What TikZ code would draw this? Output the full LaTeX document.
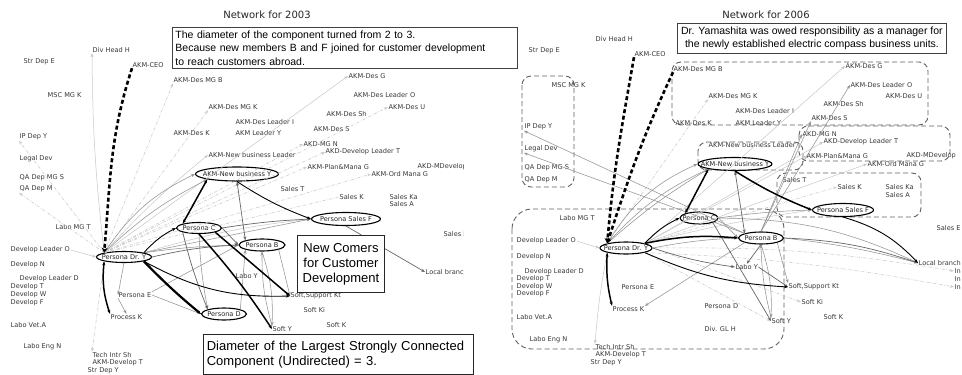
\documentclass[tikz,border=0pt]{standalone}
\usepackage{fontspec}
\setmainfont{Liberation Sans}
\newfontfamily\dv{DejaVu Sans}
\usetikzlibrary{shapes.geometric,arrows.meta}
\begin{document}
\begin{tikzpicture}[x=1pt,y=-1pt,
 >={Stealth[length=4pt,width=3pt]},
 lbl/.style={font=\dv\fontsize{6.6}{8}\selectfont, text=black!78, inner sep=0.5pt, anchor=west},
 ell/.style 2 args={font=\dv\fontsize{6.6}{8}\selectfont, text=black!85, draw=black, line width=1.1pt, ellipse, inner sep=0pt, minimum width=#1pt, minimum height=#2pt},
 ttl/.style={font=\dv\fontsize{10}{12}\selectfont, text=black!85},
 tbox/.style={draw=black!75, fill=white, line width=0.9pt, inner xsep=3pt, inner ysep=2pt, anchor=north west, font=\fontsize{10.5}{13.5}\selectfont},
 bbox/.style={draw=black!85, fill=white, line width=1pt, anchor=north west, font=\fontsize{13}{15}\selectfont},
 e1/.style={draw=black, line width=0.9pt},
 e1t/.style={draw=black, line width=1.5pt},
 e2/.style={draw=black!60, line width=0.7pt},
 e3/.style={draw=black!42, line width=0.55pt},
 e4/.style={draw=black!22, line width=0.5pt},
 ef/.style={draw=black!20, line width=0.6pt, dash pattern=on 3pt off 1.5pt on 0.6pt off 1.5pt},
 ceo/.style={draw=black, line width=2.6pt, dash pattern=on 4pt off 2.6pt, -{Stealth[length=5pt,width=6pt]}},
 grp/.style={draw=black!62, line width=0.9pt, dash pattern=on 5pt off 3pt, rounded corners=9pt}
]
\useasboundingbox (0,0) rectangle (962,375);
\fill[white] (0,0) rectangle (962,375);

%================ LEFT PANEL (2003) ================
\begin{scope}
\clip (0,0) rectangle (463,375);
\node[lbl] (Ldivh) at (92,50) {Div Head H};
\node[lbl] (Lstre) at (23,62) {Str Dep E};
\node[lbl] (Lceo) at (132,65) {AKM-CEO};
\node[lbl] (Ldesmgb) at (173,80) {AKM-Des MG B};
\node[lbl] (Lmsc) at (47,95) {MSC MG K};
\node[lbl] (Ldesmgk) at (208,107) {AKM-Des MG K};
\node[lbl] (Lipdep) at (19,137) {IP Dep Y};
\node[lbl] (Llegal) at (19,159) {Legal Dev};
\node[lbl] (Lqas) at (19,178) {QA Dep MG S};
\node[lbl] (Lqam) at (19,189) {QA Dep M};
\node[lbl] (Ldesk) at (173,133) {AKM-Des K};
\node[lbl] (Ldesli) at (235,122) {AKM-Des Leader I};
\node[lbl] (Lleadery) at (235,133) {AKM Leader Y};
\node[lbl] (Lnbl) at (208,155) {AKM-New business Leader};
\node[lbl] (Ldesg) at (348,76) {AKM-Des G};
\node[lbl] (Ldeslo) at (353,95) {AKM-Des Leader O};
\node[lbl] (Ldesu) at (388,107) {AKM-Des U};
\node[lbl] (Ldessh) at (326,114) {AKM-Des Sh};
\node[lbl] (Ldess) at (313,129) {AKM-Des S};
\node[lbl] (Lmgn) at (303,144) {AKD-MG N};
\node[lbl] (Ldlt) at (325,152) {AKD-Develop Leader T};
\node[lbl] (Lplan) at (307,167) {AKM-Plan\&Mana G};
\node[lbl] (Lmdev) at (417,167) {AKD-MDevelop};
\node[lbl] (Lord) at (371,174) {AKM-Ord Mana G};
\node[lbl] (Lsalest) at (280,189) {Sales T};
\node[lbl] (Lsalesk) at (339,197) {Sales K};
\node[lbl] (Lsaleska) at (389,197) {Sales Ka};
\node[lbl] (Lsalesa) at (389,204) {Sales A};
\node[lbl] (Lsalese) at (443,234) {Sales E};
\node[lbl] (Llocal) at (425,272) {Local branch};
\node[lbl] (Llaboy) at (235,276) {Labo Y};
\node[lbl] (Lssk) at (290,296) {Soft,Support Kt};
\node[lbl] (Lski) at (303,310) {Soft Ki};
\node[lbl] (Lsk) at (326,325) {Soft K};
\node[lbl] (Lsy) at (272,329) {Soft Y};
\node[lbl] (Llabomg) at (55,227) {Labo MG T};
\node[lbl] (Ldlo) at (10,250) {Develop Leader O};
\node[lbl] (Ldn) at (10,265) {Develop N};
\node[lbl] (Ldld) at (19,279) {Develop Leader D};
\node[lbl] (Ldt) at (10,287) {Develop T};
\node[lbl] (Ldw) at (10,295) {Develop W};
\node[lbl] (Ldf) at (10,303) {Develop F};
\node[lbl] (Llva) at (10,325) {Labo Vet.A};
\node[lbl] (Llen) at (23,347) {Labo Eng N};
\node[lbl] (Ltis) at (92,355) {Tech Intr Sh};
\node[lbl] (Ladt) at (92,363) {AKM-Develop T};
\node[lbl] (Lsdy) at (87,371) {Str Dep Y};
\node[lbl] (Lpe) at (118,295) {Persona E};
\node[lbl] (Lpk) at (110,317) {Process K};

\node[ell={83}{14}] (Lnby) at (237,174) {\makebox[0pt]{AKM-New business Y}};
\node[ell={69}{13}] (Lsf) at (346,219) {\makebox[0pt]{Persona Sales F}};
\node[ell={46}{12}] (Lpb) at (262,245) {\makebox[0pt]{Persona B}};
\node[ell={45}{11}] (Lpc) at (199,228) {\makebox[0pt]{Persona C}};
\node[ell={45}{12}] (Lpd) at (224,314) {\makebox[0pt]{Persona D}};
\node[ell={55}{11}] (Ldy) at (124,257) {\makebox[0pt]{Persona Dr. Y}};

% faint edges
\draw[ef,->] (Ldy.north west) -- (Ldesu.west);
\draw[ef,->] (Ldy.north west) -- (Lmgn.west);
\draw[ef,->] (Ldy.north west) -- (Ldlt.west);
\draw[ef,->] (Ldy.north west) -- (Lplan.west);
\draw[ef,->] (Ldy.north west) -- (Lord.west);
\draw[ef] (Ldy.north west) -- (Lsalesk.west);
\draw[ef,->] (Ldy.north west) -- (Ldesmgb.south west);
\draw[ef,->] (Ldy.north west) -- (Ldesmgk.south west);
\draw[ef,->] (Ldy.north west) -- (Lipdep.south west);
\draw[ef,->] (Ldy.north west) -- (Lqam.south west);
\draw[ef,->] (Ldy.south west) -- (Ltis.north west);
\draw[e4,->] (Ldy.north west) to[bend left=3] (Ldivh.south west);
\draw[e4,->] (Ldy.north west) -- (Ldesg.west);
\draw[e4,->] (Ldy.north west) to[bend left=4] (Lnbl.west);
\draw[e4,->] (Ldlo.east) -- (Ldy.west);
\draw[e4,->] (Ldy.north east) to[bend left=5] (Lsf.west);
% gray edges
\draw[e3,->] (Ldy.north west) to[bend left=8] (Lnby.south west);
\draw[e3,->] (Ldy.north west) to[bend left=15] (Lnby.west);
\draw[e3,->] (Ldy.north east) to[bend left=3] (Lpb.west);
\draw[e3,->] (Ldy.north east) -- (Lsf.west);
\draw[e3,->] (Lpb.south east) -- (Lssk.west);
\draw[e3,->] (Lpb.south) to[bend left=10] (Lsy.north west);
\draw[e3,<-] (Lpb.south) to[bend right=8] (Lsy.north west);
\draw[e3,->] (Lpd.north east) -- (Lpb.south west);
\draw[e3,->] (Ldy.south) -- (Lpe.west);
\draw[e3,->] (Lpe.south west) -- (Lpk.north);
\draw[e3,->] (Lpe.east) -- (Lpd.west);
\draw[e3] (Lpe.north east) -- (Lpb.west);
\draw[e3,->] (Lpc.south) to[bend right=4] (Lpd.north west);
% dark edges
\draw[e2,<->] (Lnby.south) -- (Lpb.north west);
\draw[e2,->] (Ldy.east) to[bend left=5] (Lpb.west);
\draw[e2,->] (Lpc.east) -- (Lpb.west);
\draw[e2,->] (Lpc.east) to[bend left=3] (Lsf.west);
\draw[e2,->] (Lpc.south west) to[bend right=4] (Lpd.north west);
\draw[e2,->] (Lsf.south) -- (Llocal.west);
% black edges
\draw[e1t,<->] (Lnby.south west) -- (Lpc.north west);
\draw[e1,->] (Lnby.south) to[bend right=6] (Lsf.west);
\draw[e1,->] (Ldy.north east) to[bend left=10] (Lpc.west);
\draw[e1t,->] (Lpc.south east) -- (Lssk.west);
\draw[e1t,->] (Lpc.south) to[bend left=4] (Lsy.west);
\draw[e1,->] (Ldy.south east) to[bend right=15] (Lssk.west);
\draw[black, line width=2.2pt,->] (Ldy.south east) to[bend right=3] (Lpd.west);
\draw[e1t,<->] (Ldy.south west) to[bend right=12] (Lpk.north west);
\draw[ceo] (Lceo.south west) to[out=-108,in=85] (Ldy.north west);
\end{scope}
\node[ttl] (Ltitle) at (267,15) {Network for 2003};
\node[tbox, minimum width=345pt, minimum height=41pt, text width=339pt, align=left] (Lbox) at (172,27)
 {The diameter of the component turned from 2 to 3.\\Because new members B and F joined for customer development\\to reach customers abroad.};
\node[bbox, minimum width=87pt, minimum height=57pt, align=center] (Lnc) at (297,235) {New Comers\\for Customer\\Development};
\node[bbox, minimum width=269pt, minimum height=40pt, text width=263pt, align=left] (Ldiam) at (203,334) {Diameter of the Largest Strongly Connected\\Component (Undirected) = 3.};

%================ RIGHT PANEL (2006) ================
\node[ttl] (Rtitle) at (766,15) {Network for 2006};
\node[tbox, minimum width=269pt, minimum height=30pt, align=center] (Rbox) at (677,23)
 {Dr. Yamashita was owed responsibility as a manager for\\the newly established electric compass business units.};

\draw[grp] (522,76) rectangle (574,187);
\draw[grp] (672,62) rectangle (928,125);
\draw[grp] (698,142) rectangle (803,170);
\draw[grp] (799,126) rectangle (950,161);
\draw[grp] (777,173) rectangle (921,217);
\draw[grp, rounded corners=20pt] (512,209) rectangle (784,349);

\node[lbl] (Rdivh) at (595,39) {Div Head H};
\node[lbl] (Rstre) at (528,51) {Str Dep E};
\node[lbl] (Rceo) at (634,54) {AKM-CEO};
\node[lbl] (Rdesmgb) at (673,69) {AKM-Des MG B};
\node[lbl] (Rmsc) at (551,85) {MSC MG K};
\node[lbl] (Ripdep) at (524,127) {IP Dep Y};
\node[lbl] (Rlegal) at (524,149) {Legal Dev};
\node[lbl] (Rqas) at (524,168) {QA Dep MG S};
\node[lbl] (Rqam) at (524,180) {QA Dep M};
\node[lbl] (Rdesmgk) at (708,96) {AKM-Des MG K};
\node[lbl] (Rdesli) at (735,111) {AKM-Des Leader I};
\node[lbl] (Rdesk) at (675,123) {AKM-Des K};
\node[lbl] (Rleadery) at (735,123) {AKM Leader Y};
\node[lbl] (Rdesg) at (845,66) {AKM-Des G};
\node[lbl] (Rdeslo) at (850,85) {AKM-Des Leader O};
\node[lbl] (Rdesu) at (885,96) {AKM-Des U};
\node[lbl] (Rdessh) at (823,104) {AKM-Des Sh};
\node[lbl] (Rdess) at (811,118) {AKM-Des S};
\node[lbl] (Rmgn) at (802,134) {AKD-MG N};
\node[lbl] (Rdlt) at (823,142) {AKD-Develop Leader T};
\node[lbl] (Rplan) at (806,156) {AKM-Plan\&Mana G};
\node[lbl] (Rmdev) at (906,156) {AKD-MDevelop};
\node[lbl] (Rord) at (867,164) {AKM-Ord Mana G};
\node[lbl] (Rnbl) at (708,145) {AKM-New business Leader};
\node[lbl] (Rsalest) at (782,180) {Sales T};
\node[lbl] (Rsalesk) at (837,187) {Sales K};
\node[lbl] (Rsaleska) at (885,187) {Sales Ka};
\node[lbl] (Rsalesa) at (885,195) {Sales A};
\node[lbl] (Rsalese) at (936,228) {Sales E};
\node[lbl] (Rlocal) at (918,263) {Local branch};
\node[lbl] (Rin1) at (954,271) {In};
\node[lbl] (Rin2) at (954,279) {In};
\node[lbl] (Rin3) at (954,287) {In};
\node[lbl] (Rlabomg) at (559,218) {Labo MG T};
\node[lbl] (Rdlo) at (516,241) {Develop Leader O};
\node[lbl] (Rdn) at (516,257) {Develop N};
\node[lbl] (Rdld) at (524,272) {Develop Leader D};
\node[lbl] (Rdt) at (516,279) {Develop T};
\node[lbl] (Rdw) at (516,287) {Develop W};
\node[lbl] (Rdf) at (516,294) {Develop F};
\node[lbl] (Rlva) at (516,317) {Labo Vet.A};
\node[lbl] (Rlen) at (529,340) {Labo Eng N};
\node[lbl] (Rtis) at (595,347) {Tech Intr Sh};
\node[lbl] (Radt) at (595,355) {AKM-Develop T};
\node[lbl] (Rsdy) at (590,363) {Str Dep Y};
\node[lbl] (Rpe) at (621,287) {Persona E};
\node[lbl] (Rpk) at (612,309) {Process K};
\node[lbl] (Rpd) at (704,306) {Persona D};
\node[lbl] (Rdiv) at (704,329) {Div. GL H};
\node[lbl] (Rlaboy) at (735,267) {Labo Y};
\node[lbl] (Rssk) at (788,287) {Soft,Support Kt};
\node[lbl] (Rski) at (801,302) {Soft Ki};
\node[lbl] (Rsk) at (823,317) {Soft K};
\node[lbl] (Rsy) at (771,321) {Soft Y};

\node[ell={74}{13}] (Rnby) at (735,164) {\makebox[0pt]{AKM-New business Y}};
\node[ell={61}{13}] (Rsf) at (843,210) {\makebox[0pt]{Persona Sales F}};
\node[ell={45}{12}] (Rpb) at (761,238) {\makebox[0pt]{Persona B}};
\node[ell={38}{12}] (Rpc) at (699,218) {\makebox[0pt]{Persona C}};
\node[ell={52}{12}] (Rdy) at (626,248) {\makebox[0pt]{Persona Dr. Y}};

% faint edges
\draw[ef,->] (Rdy.east) to[bend left=5] (Rin1.west);
\draw[ef,->] (Rdy.south east) to[bend left=4] (Rin3.west);
\draw[ef,->] (Rdy.south east) -- (Rsy.west);
\draw[ef,->] (Rdy.east) -- (Rski.west);
\draw[ef,->] (Rdy.north east) -- (Rsalesk.west);
\draw[ef,->] (Rdy.north west) -- (Rdesmgk.south west);
\draw[e4,->] (Rdy.north east) -- (Rdesg.west);
\draw[e4,->] (Rdy.north east) -- (Rdlt.west);
\draw[e4,->] (Rdy.north east) -- (Rplan.west);
\draw[e4,->] (Rdy.north east) -- (Rord.west);
\draw[e4,->] (Rdlo.east) -- (Rdy.west);
\draw[e4,->] (Rdy.south west) to[bend right=3] (Rtis.north west);
\draw[e4,->] (Rdy.north east) to[bend left=3] (Rsf.west);
% gray edges
\draw[e3,->] (Rdy.north west) to[bend left=5] (Rnby.south west);
\draw[e3,->] (Rdy.north west) to[bend left=11] (Rnby.south west);
\draw[e3,->] (Rdy.north west) to[bend left=17] (Rnby.west);
\draw[e3,->] (Rdy.east) to[bend left=4] (Rpb.west);
\draw[e3,->] (Rpc.east) -- (Rpb.west);
\draw[e3,->] (Rpb.north west) -- (Ripdep.south west);
\draw[e3,->] (Rpb.north west) -- (Rlegal.south west);
\draw[e3,->] (Rpb.north) -- (Rmgn.west);
\draw[e3,->] (Rpb.north) -- (Rdess.south west);
\draw[e3,->] (Rpb.north) -- (Rdeslo.west);
\draw[e3,->] (Rpc.east) to[bend left=3] (Rsf.west);
\draw[e3,->] (Rpb.east) to[bend left=4] (Rlocal.west);
\draw[e3,->] (Rpc.east) to[bend left=12] (Rlocal.west);
\draw[e3,->] (Rpb.south) to[bend left=10] (Rsy.north west);
\draw[e3,<-] (Rpb.south) to[bend right=6] (Rsy.north west);
\draw[e3,->] (Rpb.south west) -- (Rpk.north east);
\draw[e3,->] (Rpb.south east) -- (Rssk.north west);
% dark edges
\draw[e2,<->] (Rnby.south) -- (Rpb.north west);
\draw[e2,->] (Rpb.east) to[bend left=8] (Rlocal.west);
\draw[e2,->] (Rlaboy.east) -- (Rssk.west);
\draw[e2,->] (Rpc.south east) -- (Rsy.west);
\draw[e2,->] (Rdy.east) to[bend right=5] (Rlaboy.west);
\draw[e2,->] (Rpb.south) -- (Rlaboy.north);
% black edges
\draw[e1t,<->] (Rnby.south west) -- (Rpc.north west);
\draw[e1t,->] (Rnby.south) to[bend right=5] (Rsf.west);
\draw[e1,->] (Rdy.north east) to[bend left=10] (Rpc.west);
\draw[e1t,->] (Rdy.north east) to[bend left=8] (Rpb.west);
\draw[e1,->] (Rsf.south) to[bend left=15] (Rlocal.west);
\draw[e1,->] (Rdy.south east) to[bend right=10] (Rssk.west);
\draw[e1t,<->] (Rdy.south west) to[bend right=8] (Rpk.north west);
\draw[ceo] (Rceo.south west) to[out=-100,in=85] (Rdy.north west);
\draw[ceo] (Rdesmgb.south west) to[out=-115,in=72] (Rdy.north west);
\end{tikzpicture}
\end{document}
